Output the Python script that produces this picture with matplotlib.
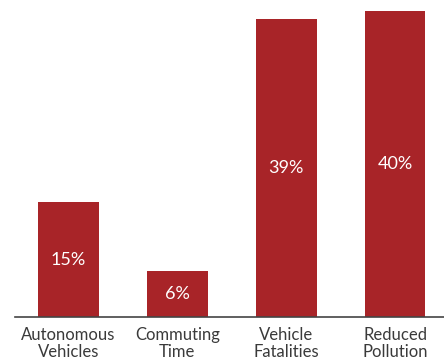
import matplotlib.pyplot as plt

categories = ["Autonomous\nVehicles", "Commuting\nTime", "Vehicle\nFatalities", "Reduced\nPollution"]
values = [15, 6, 39, 40]
labels = ["15%", "6%", "39%", "40%"]

bar_color = "#a82428"
text_color = "#3a3a3a"

plt.rcParams['font.family'] = ['Lato', 'DejaVu Sans']

fig = plt.figure(figsize=(4.44, 3.63), dpi=100)
ax = fig.add_axes([15 / 444, 1 - 317 / 363, 429 / 444, 317 / 363])

x = range(len(values))
bars = ax.bar(x, values, width=0.56, color=bar_color)

for bar, lab in zip(bars, labels):
    ax.text(bar.get_x() + bar.get_width() / 2, bar.get_height() / 2, lab,
            ha='center', va='center', color='white', fontsize=13)

ax.set_xlim(-0.49, 3.45)
ax.set_ylim(0, 41.5)

for side in ['top', 'right', 'left']:
    ax.spines[side].set_visible(False)
ax.spines['bottom'].set_color('#444444')
ax.spines['bottom'].set_linewidth(1.2)

ax.set_yticks([])
ax.set_xticks(list(x))
ax.set_xticklabels(categories, fontsize=12, color=text_color, linespacing=1.1)
ax.tick_params(axis='x', length=0, pad=7)

fig.savefig("out.png", dpi=100)
